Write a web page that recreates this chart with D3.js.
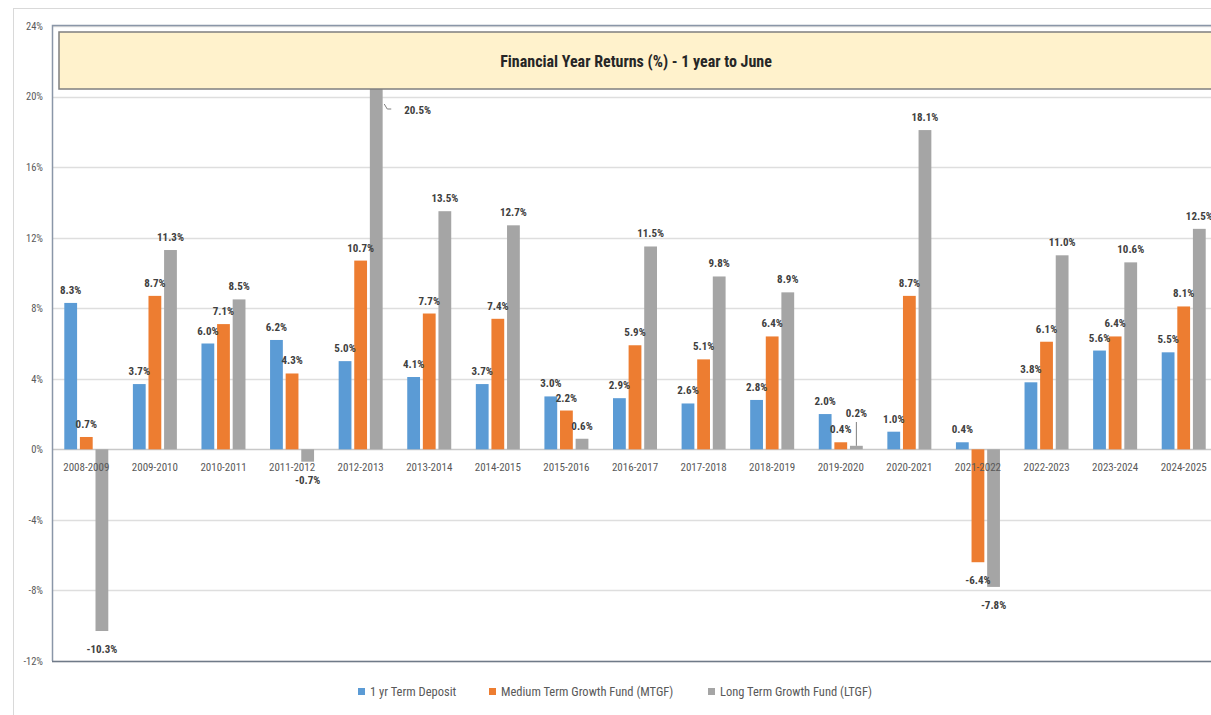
<!DOCTYPE html>
<html>
<head>
<meta charset="utf-8">
<script src="https://cdn.jsdelivr.net/npm/d3@7"></script>
<style>
  html, body { margin: 0; padding: 0; background: #fff; }
  svg { display: block; }
  text { font-family: "Liberation Sans Narrow", "Roboto Condensed", "Liberation Sans", sans-serif; }
</style>
</head>
<body>
<svg id="chart" width="1211" height="715"></svg>
<script>
const categories = ["2008-2009","2009-2010","2010-2011","2011-2012","2012-2013","2013-2014","2014-2015","2015-2016","2016-2017","2017-2018","2018-2019","2019-2020","2020-2021","2021-2022","2022-2023","2023-2024","2024-2025"];
const seriesNames = ["1 yr Term Deposit","Medium Term Growth Fund (MTGF)","Long Term Growth Fund (LTGF)"];
const termDeposit = [8.3,3.7,6.0,6.2,5.0,4.1,3.7,3.0,2.9,2.6,2.8,2.0,1.0,0.4,3.8,5.6,5.5];
const mtgf = [0.7,8.7,7.1,4.3,10.7,7.7,7.4,2.2,5.9,5.1,6.4,0.4,8.7,-6.4,6.1,6.4,8.1];
const ltgf = [-10.3,11.3,8.5,-0.7,20.5,13.5,12.7,0.6,11.5,9.8,8.9,0.2,18.1,-7.8,11.0,10.6,12.5];
const yTicks = [-12,-8,-4,0,4,8,12,16,20,24];
const colors = ["#5b9bd5","#ed7d31","#a5a5a5"];
const titleText = "Financial Year Returns (%) - 1 year to June";

const seriesValues = [termDeposit, mtgf, ltgf];
const svg = d3.select("#chart");

// outer chart border
svg.append("rect").attr("x",13.5).attr("y",8.5).attr("width",1210).attr("height",720)
  .attr("fill","none").attr("stroke","#d9d9d9").attr("stroke-width",1);

const plotLeft = 52, plotRight = 1218, plotTop = 26, plotBottom = 661;

const x = d3.scaleBand().domain(categories).range([plotLeft, plotRight]).padding(0);
const x1 = d3.scaleBand().domain(d3.range(seriesNames.length)).range([0, 44]).paddingInner(0.18);
const y = d3.scaleLinear().domain([-12, 24]).range([plotBottom, plotTop]);

// gridlines
svg.append("g").selectAll("line").data(yTicks).join("line")
  .attr("x1", plotLeft).attr("x2", plotRight)
  .attr("y1", d => Math.round(y(d)) + 0.5).attr("y2", d => Math.round(y(d)) + 0.5)
  .attr("stroke", d => d === 0 ? "#c8c8c8" : "#dedede").attr("stroke-width", 1.3);

// y axis labels
const yAxis = d3.axisLeft(y).tickValues(yTicks).tickFormat(d => d + "%").tickSize(0).tickPadding(9);
const gy = svg.append("g").attr("transform", `translate(${plotLeft},0)`).call(yAxis);
gy.select(".domain").remove();
gy.selectAll("text").attr("font-size", 10.5).attr("fill", "#595959");

// plot frame
svg.append("path")
  .attr("d", `M${plotLeft+0.5},${plotBottom} V${plotTop-0.5} H${plotRight}`)
  .attr("fill","none").attr("stroke","#8a96a8").attr("stroke-width",1.5);
svg.append("line").attr("x1",plotLeft).attr("x2",plotRight)
  .attr("y1",plotBottom+0.5).attr("y2",plotBottom+0.5)
  .attr("stroke","#6f7a88").attr("stroke-width",1.5);

// bars
const flat = [];
categories.forEach((c, i) => {
  seriesValues.forEach((vals, s) => flat.push({cat: c, s, v: vals[i]}));
});
const barX = d => x(d.cat) + x.bandwidth()/2 - 22 + x1(d.s);
svg.append("g").selectAll("rect").data(flat).join("rect")
  .attr("x", barX)
  .attr("y", d => y(Math.max(0, d.v)))
  .attr("width", x1.bandwidth())
  .attr("height", d => Math.abs(y(d.v) - y(0)))
  .attr("fill", d => colors[d.s]);

// category labels (drawn over bars, as in the reference)
const gx = svg.append("g").attr("transform", `translate(0,${y(0)})`)
  .call(d3.axisBottom(x).tickSize(0).tickPadding(14));
gx.select(".domain").remove();
gx.selectAll("text").attr("font-size", 11).attr("fill", "#595959");

// special label placements (Excel-style manual placement)
const special = {
  "2|2012-2013": {dx: 28, ty: 114, leader: true, anchor: "start"},
  "2|2019-2020": {dx: 0, ty: 417, vleader: true}
};

const labels = svg.append("g");
flat.forEach(d => {
  const cx = barX(d) + x1.bandwidth()/2;
  const key = d.s + "|" + d.cat;
  const sp = special[key];
  let tx = cx, ty, anchor = "middle";
  if (sp) {
    tx = cx + sp.dx; ty = sp.ty; anchor = sp.anchor || "middle";
    if (sp.leader) {
      labels.append("path")
        .attr("d", `M${cx+8},${ty-10} L${cx+11},${ty-5} L${cx+15},${ty-5}`)
        .attr("fill","none").attr("stroke","#7f7f7f").attr("stroke-width",1);
    }
    if (sp.vleader) {
      labels.append("line").attr("x1", cx).attr("x2", cx)
        .attr("y1", ty + 5).attr("y2", y(d.v))
        .attr("stroke","#7f7f7f").attr("stroke-width",1);
    }
  } else if (d.v >= 0) {
    ty = y(d.v) - 9;
  } else {
    ty = y(d.v) + 22;
  }
  labels.append("text")
    .attr("x", tx).attr("y", ty)
    .attr("text-anchor", anchor)
    .attr("font-size", 11).attr("font-weight", "bold")
    .attr("fill", "#404040")
    .text(d.v.toFixed(1) + "%");
});

// title box
svg.append("rect").attr("x", 59).attr("y", 32).attr("width", 1170).attr("height", 57)
  .attr("fill", "#fff2cc").attr("stroke", "#7f7f7f").attr("stroke-width", 1.5);
svg.append("text").attr("x", 636).attr("y", 67).attr("text-anchor", "middle")
  .attr("font-size", 16).attr("font-weight", "bold").attr("fill", "#262626")
  .text(titleText);

// legend
const legendX = [358, 489, 708];
const lg = svg.append("g");
seriesNames.forEach((name, i) => {
  lg.append("rect").attr("x", legendX[i]).attr("y", 688).attr("width", 7).attr("height", 7)
    .attr("fill", colors[i]);
  lg.append("text").attr("x", legendX[i] + 12).attr("y", 696)
    .attr("font-size", 12.5).attr("fill", "#595959").text(name);
});
</script>
</body>
</html>
